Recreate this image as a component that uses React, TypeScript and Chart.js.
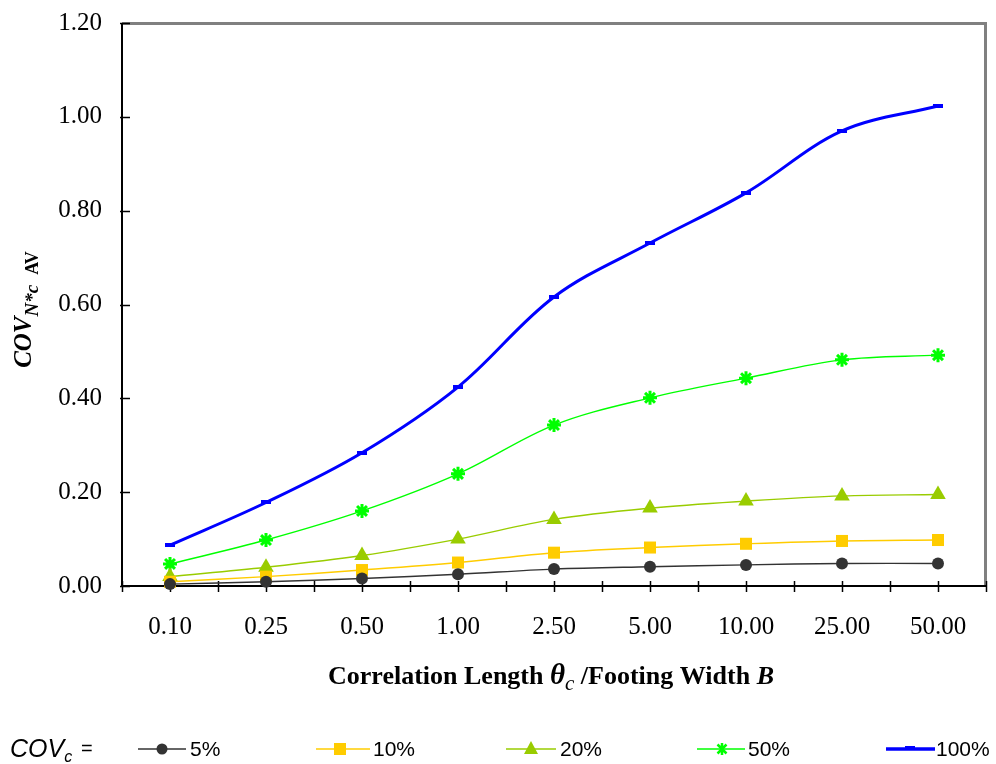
import { useEffect, useRef } from 'react';
import { Chart, registerables } from 'chart.js';

Chart.register(...registerables);

// Correlation length ratio categories (θc / B)
const categories = ['0.10', '0.25', '0.50', '1.00', '2.50', '5.00', '10.00', '25.00', '50.00'];

// COV of the averaged bearing capacity factor, one series per input COVc
const cov5 = [0.004, 0.009, 0.016, 0.025, 0.036, 0.041, 0.045, 0.048, 0.048];
const cov10 = [0.009, 0.02, 0.034, 0.05, 0.071, 0.082, 0.09, 0.096, 0.098];
const cov20 = [0.02, 0.04, 0.065, 0.1, 0.142, 0.166, 0.181, 0.192, 0.195];
const cov50 = [0.047, 0.098, 0.16, 0.239, 0.343, 0.401, 0.443, 0.482, 0.492];
const cov100 = [0.087, 0.178, 0.284, 0.424, 0.616, 0.731, 0.838, 0.97, 1.023];

const seriesLabels = ['5%', '10%', '20%', '50%', '100%'];
const yTickLabels = ['0.00', '0.20', '0.40', '0.60', '0.80', '1.00', '1.20'];

const W = 996;
const H = 764;
const SERIF = '"Liberation Serif", "Times New Roman", serif';
const SANS = '"Liberation Sans", Arial, sans-serif';

const COLORS = {
  c5: '#333333',
  c10: '#FFCC00',
  c20: '#99CC00',
  c50: '#00FF00',
  c100: '#0000FF',
};

type Run = { text: string; font: string; dy?: number; gap?: number };

function drawRuns(ctx: CanvasRenderingContext2D, runs: Run[], cx: number, baseline: number, align: 'center' | 'left' = 'center') {
  let total = 0;
  const widths = runs.map((r) => {
    ctx.font = r.font;
    const w = ctx.measureText(r.text).width + (r.gap || 0);
    total += w;
    return w;
  });
  let x = align === 'center' ? cx - total / 2 : cx;
  ctx.textAlign = 'left';
  ctx.textBaseline = 'alphabetic';
  runs.forEach((r, i) => {
    ctx.font = r.font;
    ctx.fillText(r.text, x + (r.gap || 0), baseline + (r.dy || 0));
    x += widths[i];
  });
}

function makeDash(): HTMLCanvasElement {
  const c = document.createElement('canvas');
  c.width = 10;
  c.height = 4;
  const g = c.getContext('2d')!;
  g.fillStyle = COLORS.c100;
  g.fillRect(0, 0, 10, 4);
  return c;
}

function drawMarker(ctx: CanvasRenderingContext2D, kind: string, x: number, y: number, color: string) {
  ctx.save();
  ctx.fillStyle = color;
  ctx.strokeStyle = color;
  if (kind === 'circle') {
    ctx.beginPath();
    ctx.arc(x, y, 5.5, 0, Math.PI * 2);
    ctx.fill();
  } else if (kind === 'rect') {
    ctx.fillRect(x - 6, y - 6, 12, 12);
  } else if (kind === 'triangle') {
    ctx.beginPath();
    ctx.moveTo(x, y - 8);
    ctx.lineTo(x + 7, y + 5);
    ctx.lineTo(x - 7, y + 5);
    ctx.closePath();
    ctx.fill();
  } else if (kind === 'star') {
    ctx.lineWidth = 2.5;
    ctx.beginPath();
    ctx.moveTo(x - 4.5, y - 4.5);
    ctx.lineTo(x + 4.5, y + 4.5);
    ctx.moveTo(x + 4.5, y - 4.5);
    ctx.lineTo(x - 4.5, y + 4.5);
    ctx.moveTo(x, y - 6);
    ctx.lineTo(x, y + 6);
    ctx.stroke();
  } else if (kind === 'dash') {
    ctx.fillRect(x - 5, y - 3, 10, 4);
  }
  ctx.restore();
}

const framePlugin = {
  id: 'frameAndText',
  beforeDatasetsDraw(chart: any) {
    const { ctx, chartArea: a, scales } = chart;
    const xs = scales.x;
    const ys = scales.y;
    ctx.save();

    // plot box: grey top/right, black left/bottom
    ctx.strokeStyle = '#808080';
    ctx.lineWidth = 3;
    ctx.beginPath();
    ctx.moveTo(a.left, a.top + 0.5);
    ctx.lineTo(a.right - 0.5, a.top + 0.5);
    ctx.lineTo(a.right - 0.5, a.bottom);
    ctx.stroke();

    ctx.strokeStyle = '#000000';
    ctx.lineWidth = 2;
    ctx.beginPath();
    ctx.moveTo(a.left, a.top);
    ctx.lineTo(a.left, a.bottom);
    ctx.lineTo(a.right, a.bottom);
    ctx.stroke();

    // y tick marks (inside)
    ctx.lineWidth = 1.5;
    yTickLabels.forEach((t) => {
      const py = Math.round(ys.getPixelForValue(parseFloat(t))) + 0.5;
      ctx.beginPath();
      ctx.moveTo(a.left - 2, py);
      ctx.lineTo(a.left + 8, py);
      ctx.stroke();
    });

    // x tick marks at category centres and boundaries
    const half = (xs.getPixelForValue(1) - xs.getPixelForValue(0)) / 2;
    const marks: number[] = [];
    categories.forEach((_, i) => {
      const c = xs.getPixelForValue(i);
      marks.push(c - half, c);
    });
    marks.push(xs.getPixelForValue(categories.length - 1) + half);
    marks.forEach((mx) => {
      const px = Math.round(mx) + 0.5;
      ctx.beginPath();
      ctx.moveTo(px, a.bottom - 5);
      ctx.lineTo(px, a.bottom + 6);
      ctx.stroke();
    });

    // tick labels
    ctx.fillStyle = '#000000';
    ctx.font = `25px ${SERIF}`;
    ctx.textAlign = 'right';
    ctx.textBaseline = 'middle';
    yTickLabels.forEach((t) => {
      ctx.fillText(t, 102, ys.getPixelForValue(parseFloat(t)));
    });
    ctx.textAlign = 'center';
    categories.forEach((c, i) => {
      ctx.fillText(c, xs.getPixelForValue(i), 627);
    });
    ctx.restore();
  },
  afterDraw(chart: any) {
    const { ctx, chartArea: a } = chart;
    ctx.save();
    ctx.fillStyle = '#000000';

    // x axis title
    drawRuns(
      ctx,
      [
        { text: 'Correlation Length ', font: `bold 26px ${SERIF}` },
        { text: 'θ', font: `bold italic 29px ${SERIF}` },
        { text: 'c', font: `italic 21px ${SERIF}`, dy: 6 },
        { text: ' /Footing Width ', font: `bold 26px ${SERIF}` },
        { text: 'B', font: `bold italic 26px ${SERIF}` },
      ],
      551,
      684
    );

    // y axis title (rotated)
    ctx.save();
    ctx.translate(31, (a.top + a.bottom) / 2 + 5);
    ctx.rotate(-Math.PI / 2);
    drawRuns(
      ctx,
      [
        { text: 'COV', font: `bold italic 25px ${SERIF}` },
        { text: 'N*c', font: `bold italic 19px ${SERIF}`, dy: 7 },
        { text: 'AV', font: `bold 18px ${SERIF}`, dy: 7, gap: 10 },
      ],
      0,
      0
    );
    ctx.restore();

    // legend row
    const ly = 749;
    drawRuns(
      ctx,
      [
        { text: 'COV', font: `italic 25px ${SANS}` },
        { text: 'c', font: `italic 16px ${SANS}`, dy: 5 },
      ],
      10,
      ly + 8,
      'left'
    );
    ctx.font = `20px ${SANS}`;
    ctx.textAlign = 'left';
    ctx.fillText('=', 81, ly + 6);

    const items = [
      { x0: 138, x1: 186, m: 162, t: 190, color: COLORS.c5, kind: 'circle', lw: 1.5 },
      { x0: 316, x1: 370, m: 340, t: 373, color: COLORS.c10, kind: 'rect', lw: 1.5 },
      { x0: 506, x1: 556, m: 531, t: 560, color: COLORS.c20, kind: 'triangle', lw: 1.5 },
      { x0: 697, x1: 745, m: 722, t: 748, color: COLORS.c50, kind: 'star', lw: 1.5 },
      { x0: 886, x1: 935, m: 910, t: 936, color: COLORS.c100, kind: 'dash', lw: 3.5 },
    ];
    items.forEach((it, i) => {
      ctx.strokeStyle = it.color;
      ctx.lineWidth = it.lw;
      ctx.beginPath();
      ctx.moveTo(it.x0, ly);
      ctx.lineTo(it.x1, ly);
      ctx.stroke();
      drawMarker(ctx, it.kind, it.m, ly, it.color);
      ctx.fillStyle = '#000000';
      ctx.font = `21px ${SANS}`;
      ctx.textAlign = 'left';
      ctx.textBaseline = 'middle';
      ctx.fillText(seriesLabels[i], it.t, ly + 1);
    });

    ctx.restore();
  },
};

export default function App() {
  const canvasRef = useRef<HTMLCanvasElement | null>(null);

  useEffect(() => {
    const canvas = canvasRef.current;
    if (!canvas) return;
    const dash = makeDash();

    const common = {
      tension: 0.35,
      clip: false as const,
      pointHoverRadius: 6,
    };

    const chart = new Chart(canvas, {
      type: 'line',
      data: {
        labels: categories,
        datasets: [
          {
            ...common,
            label: seriesLabels[0],
            data: cov5,
            borderColor: COLORS.c5,
            backgroundColor: COLORS.c5,
            borderWidth: 1.4,
            pointStyle: 'circle',
            pointRadius: 6,
            pointBorderWidth: 0,
          },
          {
            ...common,
            label: seriesLabels[1],
            data: cov10,
            borderColor: COLORS.c10,
            backgroundColor: COLORS.c10,
            borderWidth: 1.4,
            pointStyle: 'rect',
            pointRadius: 8.5,
            pointBorderWidth: 0,
          },
          {
            ...common,
            label: seriesLabels[2],
            data: cov20,
            borderColor: COLORS.c20,
            backgroundColor: COLORS.c20,
            borderWidth: 1.4,
            pointStyle: 'triangle',
            pointRadius: 9,
            pointBorderWidth: 0,
          },
          {
            ...common,
            label: seriesLabels[3],
            data: cov50,
            borderColor: COLORS.c50,
            backgroundColor: COLORS.c50,
            borderWidth: 1.4,
            pointStyle: 'star',
            pointRadius: 7,
            pointBorderWidth: 3,
          },
          {
            ...common,
            label: seriesLabels[4],
            data: cov100,
            borderColor: COLORS.c100,
            backgroundColor: COLORS.c100,
            borderWidth: 3,
            pointStyle: dash,
            pointRadius: 5,
          },
        ],
      },
      options: {
        responsive: false,
        animation: false,
        events: [],
        layout: { padding: { left: 0, top: 23, right: 6, bottom: 0 } },
        plugins: {
          legend: { display: false },
          tooltip: { enabled: false },
          title: { display: false },
        },
        scales: {
          x: {
            type: 'category',
            offset: true,
            grid: { display: false, drawTicks: false },
            border: { display: false },
            ticks: { display: false },
            afterFit: (s: any) => {
              s.height = H - 586;
            },
          },
          y: {
            type: 'linear',
            min: 0,
            max: 1.2,
            grid: { display: false, drawTicks: false },
            border: { display: false },
            ticks: { display: false, stepSize: 0.2 },
            afterFit: (s: any) => {
              s.width = 122;
            },
          },
        },
      },
      plugins: [framePlugin],
    });

    return () => chart.destroy();
  }, []);

  return (
    <div style={{ position: 'fixed', left: 0, top: 0, width: W, height: H, background: '#ffffff' }}>
      <canvas ref={canvasRef} width={W} height={H} style={{ display: 'block' }} />
    </div>
  );
}
